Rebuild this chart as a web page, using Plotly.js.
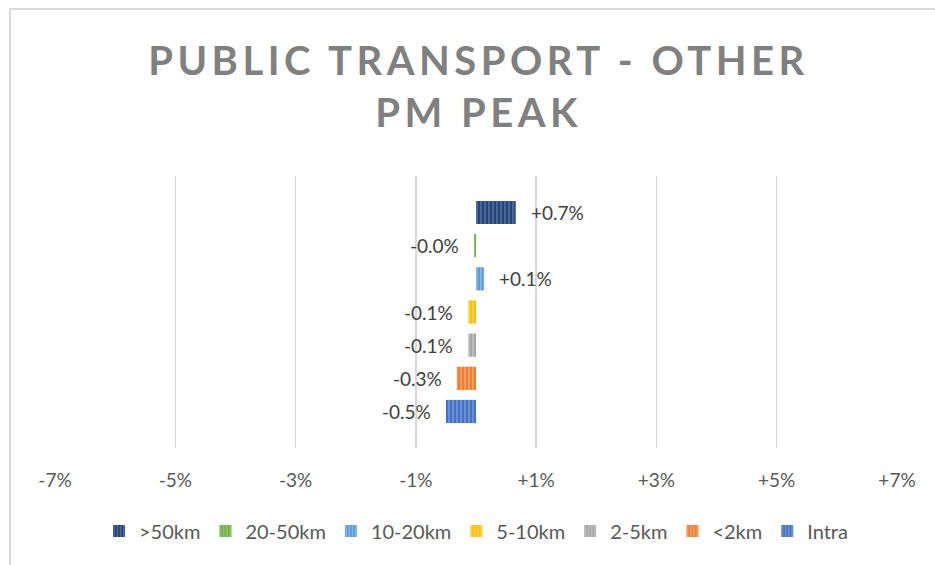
<!DOCTYPE html>
<html>
<head>
<meta charset="utf-8">
<script src="https://cdn.plot.ly/plotly-3.0.1.min.js"></script>
<style>
  html, body { margin: 0; padding: 0; background: #fff; overflow: hidden; }
  #chart { width: 935px; height: 565px; position: absolute; left: 0; top: 0; }
  #frame { position: absolute; left: 9px; top: 8px; width: 1000px; height: 1000px;
           border-left: 2px solid #D9D9D9; border-top: 2px solid #D9D9D9; pointer-events: none; }
  .gtitle { letter-spacing: 4.5px; }
</style>
</head>
<body>
<div id="chart"></div>
<div id="frame"></div>
<script>
// Data
const categories = [">50km", "20-50km", "10-20km", "5-10km", "2-5km", "<2km", "Intra"];
const values = [0.66, -0.03, 0.13, -0.13, -0.13, -0.32, -0.50];
const colors = ["#264478", "#70AD47", "#5B9BD5", "#FFC000", "#A5A5A5", "#ED7D31", "#4472C4"];
const stripeColors = ["#5A77AA", "#9CCB7E", "#93C0E8", "#FFD966", "#C9C9C9", "#F5AA74", "#7C9CDA"];
const tickVals = [-7, -5, -3, -1, 1, 3, 5, 7];
const tickText = ["-7%", "-5%", "-3%", "-1%", "+1%", "+3%", "+5%", "+7%"];

const font = "Lato, 'Open Sans', sans-serif";

function fmt(v) {
  return (v >= 0 ? "+" : "-") + Math.abs(v).toFixed(1) + "%";
}

const traces = categories.map((c, i) => ({
  type: "bar",
  orientation: "h",
  name: c,
  x: [values[i]],
  y: [c],
  width: 0.7,
  marker: {
    color: colors[i],
    line: { width: 0 },
    pattern: { shape: "|", fgcolor: stripeColors[i], bgcolor: colors[i], size: 4, solidity: 0.35, fillmode: "replace" }
  },
  hoverinfo: "skip"
}));

const annotations = categories.map((c, i) => ({
  x: values[i],
  y: c,
  xref: "x",
  yref: "y",
  text: fmt(values[i]),
  showarrow: false,
  xanchor: values[i] >= 0 ? "left" : "right",
  xshift: values[i] >= 0 ? 13 : -13,
  font: { family: font, size: 19, color: "#404040" }
}));

const layout = {
  width: 935,
  height: 565,
  autosize: false,
  paper_bgcolor: "#ffffff",
  plot_bgcolor: "#ffffff",
  margin: { l: 55, r: 38, t: 176, b: 117, autoexpand: false },
  title: {
    text: "PUBLIC TRANSPORT - OTHER<br>PM PEAK",
    font: { family: font, size: 40, color: "#808080", weight: "bold" },
    x: 0.5 + 11 / 935,
    xanchor: "center",
    xref: "container",
    yref: "container",
    y: 1 - 75 / 565,
    yanchor: "top"
  },
  barmode: "relative",
  showlegend: true,
  legend: {
    orientation: "h",
    x: 0.5,
    xanchor: "center",
    y: -0.305,
    yanchor: "middle",
    traceorder: "normal",
    font: { family: font, size: 20, color: "#595959" },
    itemwidth: 30
  },
  xaxis: {
    range: [-7, 7],
    tickvals: tickVals,
    ticktext: tickText,
    showgrid: true,
    gridcolor: "#D9D9D9",
    gridwidth: 1.5,
    zeroline: false,
    showline: false,
    ticks: "",
    tickfont: { family: font, size: 19, color: "#595959" },
    ticklabelstandoff: 19,
    automargin: false,
    fixedrange: true
  },
  yaxis: {
    type: "category",
    categoryorder: "array",
    categoryarray: categories.slice().reverse(),
    range: [-1.1, 7.1],
    showticklabels: false,
    showgrid: false,
    zeroline: false,
    showline: false,
    ticks: "",
    automargin: false,
    fixedrange: true
  },
  annotations: annotations
};

Plotly.newPlot("chart", traces, layout, { displayModeBar: false, staticPlot: true });
</script>
</body>
</html>
